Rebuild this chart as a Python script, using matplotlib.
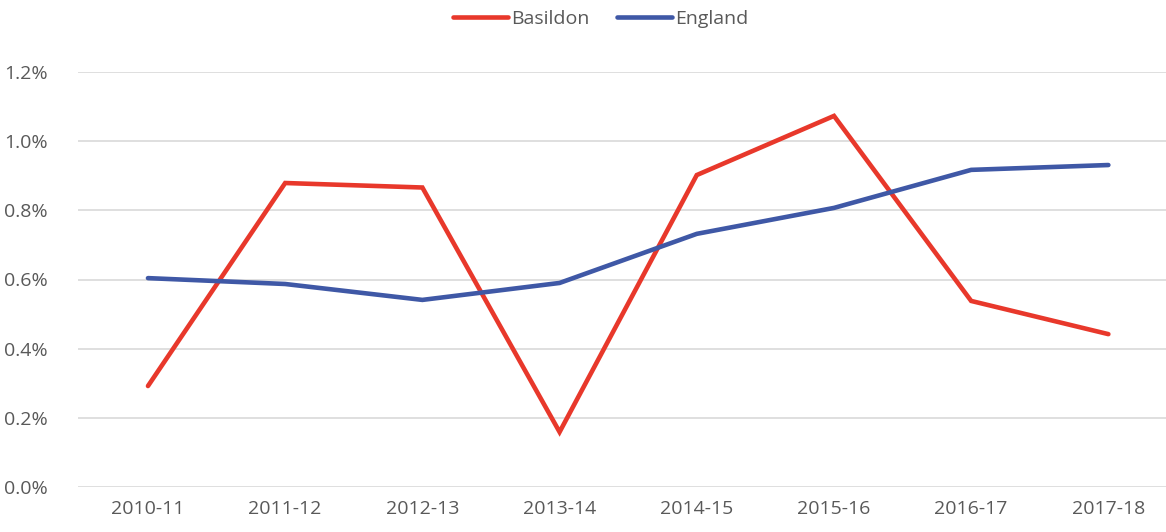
import matplotlib.pyplot as plt
from matplotlib.ticker import FuncFormatter

# data (%)
years = ['2010-11', '2011-12', '2012-13', '2013-14', '2014-15', '2015-16', '2016-17', '2017-18']
basildon = [0.292, 0.879, 0.866, 0.159, 0.902, 1.073, 0.538, 0.442]
england = [0.604, 0.587, 0.541, 0.590, 0.732, 0.807, 0.917, 0.931]

plt.rcParams['font.family'] = ['Open Sans', 'DejaVu Sans']

fig = plt.figure(figsize=(11.66, 5.32), dpi=100)
ax = fig.add_axes([78 / 1166, 1 - 487 / 532, 1 - 78 / 1166, (487 - 72) / 532])

x = range(len(years))
ax.plot(x, basildon, color='#E8382B', linewidth=3.3, solid_capstyle='round',
        solid_joinstyle='miter', label='Basildon', clip_on=False)
ax.plot(x, england, color='#3F58A6', linewidth=3.3, solid_capstyle='round',
        solid_joinstyle='miter', label='England', clip_on=False)

ax.set_ylim(0, 1.2)
ax.set_yticks([0, 0.2, 0.4, 0.6, 0.8, 1.0, 1.2])
ax.yaxis.set_major_formatter(FuncFormatter(lambda v, p: f'{v:.1f}%'))
ax.set_xlim(-0.51, 7.42)
ax.set_xticks(list(x))
ax.set_xticklabels(years)

ax.grid(axis='y', color='#D9D9D9', linewidth=1.2)
ax.set_axisbelow(True)
for s in ax.spines.values():
    s.set_visible(False)
ax.tick_params(length=0, labelsize=14, colors='#595959', pad=9)
ax.tick_params(axis='y', pad=22)

ax.legend(loc='center', bbox_to_anchor=(601 / 1166, 1 - 19 / 532),
          bbox_transform=fig.transFigure, ncol=2, frameon=False,
          fontsize=14, labelcolor='#595959', handlelength=2.8,
          handletextpad=0.2, columnspacing=1.4)

fig.savefig('out.png', dpi=100)
